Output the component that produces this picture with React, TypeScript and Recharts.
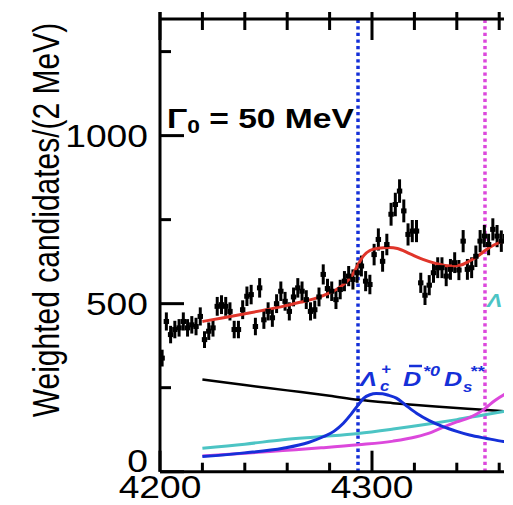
import React from "react";
import { ComposedChart, XAxis, YAxis, Scatter, Line, ErrorBar, ReferenceLine } from "recharts";

// 2 MeV bins, first bin centre at 4201 MeV
const massStart = 4201;
const binWidth = 2;

const counts = [
  338, 447, 408, 423, 428, 447, 428, 437, 432, 462,
  393, 418, 428, 492, 497, 492, 477, 423, 423, 482,
  522, 527, 432, 547, 452, 477, 458, 500, 537, 507,
  477, 520, 547, 537, 512, 477, 482, 520, 587, 545,
  537, 512, 542, 567, 582, 572, 592, 612, 567, 557,
  646, 691, 626, 676, 766, 795, 835, 776, 706, 716,
  716, 562, 525, 555, 592, 607, 607, 582, 602, 622,
  600, 686, 602, 607, 641, 686, 701, 676, 721, 701,
  686, 700, 690,
];

const errors = [
  25, 27, 26, 26, 26, 27, 26, 26, 26, 27,
  25, 26, 26, 28, 28, 28, 27, 26, 26, 28,
  29, 29, 26, 29, 27, 27, 27, 28, 29, 28,
  27, 28, 29, 29, 28, 27, 27, 28, 30, 29,
  29, 28, 29, 30, 30, 30, 30, 31, 30, 29,
  32, 33, 31, 32, 34, 35, 35, 34, 33, 33,
  33, 30, 29, 30, 30, 31, 31, 30, 31, 31,
  30, 33, 31, 31, 32, 33, 33, 32, 33, 33,
  32, 33, 33,
];

// fit components, [mass, weighted candidates]
const totalFit = [
  [4220, 447], [4230, 458], [4242, 472], [4250, 482], [4258, 492], [4266, 504],
  [4274, 517], [4280, 532], [4284, 545], [4288, 565], [4291, 588], [4293.5, 617],
  [4296, 642], [4299, 658], [4303, 665], [4308, 667], [4312, 664], [4318, 648],
  [4324, 632], [4330, 620], [4337, 612], [4342, 615], [4346, 627], [4350, 642],
  [4354, 661], [4358, 676], [4362, 686], [4366, 692],
];

const nonResonant = [
  [4220, 274], [4240, 258], [4260, 242], [4280, 226], [4293.5, 214],
  [4310, 204], [4330, 194], [4352.5, 184], [4366, 178],
];

const cyanComponent = [
  [4220, 70], [4240, 82], [4258, 95], [4275, 104], [4293.5, 114], [4310, 127],
  [4329, 144], [4340, 155], [4352.5, 169], [4362, 179], [4366, 183],
];

const magentaComponent = [
  [4220, 47], [4240, 55], [4258, 63], [4276, 71], [4293.5, 80], [4310, 91],
  [4321, 104], [4328, 117], [4333.5, 132], [4340, 148], [4346, 161], [4350, 174],
  [4352.5, 184], [4355, 197], [4358, 212], [4362, 228], [4366, 240],
];

const blueComponent = [
  [4220, 45], [4240, 56], [4258, 70], [4270, 87], [4277, 104], [4282, 120],
  [4286.5, 144], [4290, 170], [4293.5, 199], [4296, 218], [4299, 229], [4302, 233],
  [4305, 232], [4308, 227], [4311.5, 219], [4315.5, 200], [4321, 174], [4327, 152],
  [4333.5, 134], [4340, 120], [4346, 109], [4354, 99], [4362, 90], [4366, 87],
];

// thresholds drawn as dotted lines
const thresholdBlue = 4293.4;
const thresholdMagenta = 4353.3;

const xMin = 4200;
const xMax = 4380;
const yMax = 1347;
const xTicks = [4200, 4220, 4240, 4260, 4280, 4300, 4320, 4340, 4360];
const xLabels = [4200, 4300];
const yTicks = [0, 250, 500, 750, 1000, 1250];
const yLabels = [0, 500, 1000];

const points = counts.map((y, i) => ({ x: massStart + binWidth * i, y, err: errors[i] }));
const rows = (arr: number[][]) => arr.map(([x, v]) => ({ x, v }));

const FONT = "'Liberation Sans', Arial, Helvetica, sans-serif";
const BLUE = "#1530d8";
const MAGENTA = "#dc48dc";
const CYAN = "#4cc4c4";
const RED = "#e0352a";

const CHART_W = 560;
const CHART_H = 505;
const MARGIN = { top: 19, right: 18.4, bottom: 32.3, left: 159 };
const PLOT_LEFT = MARGIN.left + 1;
const PLOT_RIGHT = CHART_W - MARGIN.right;
const toPx = (m: number) => PLOT_LEFT + ((m - xMin) / (xMax - xMin)) * (PLOT_RIGHT - PLOT_LEFT);

function BottomTick({ x, y, payload }: any) {
  const major = xLabels.includes(payload.value);
  return (
    <g>
      <line x1={x} x2={x} y1={y} y2={y - (major ? 21 : 9)} stroke="#000" strokeWidth={3} />
      {major && (
        <text transform={`translate(${x},${y + 26}) scale(1.2,1)`} textAnchor="middle" fontSize={31} fontFamily={FONT}>
          {payload.value}
        </text>
      )}
    </g>
  );
}

function LeftTick({ x, y, payload }: any) {
  const major = yLabels.includes(payload.value);
  return (
    <g>
      <line x1={x} x2={x + (major ? 24 : 11)} y1={y} y2={y} stroke="#000" strokeWidth={3} />
      {major && (
        <text
          transform={`translate(${x - 12},${y + (payload.value === 0 ? 0 : 11)}) scale(1.2,1)`}
          textAnchor="end"
          fontSize={31}
          fontFamily={FONT}
        >
          {payload.value}
        </text>
      )}
    </g>
  );
}

// upper frame with ticks crossing it
function TopFrame() {
  const top = MARGIN.top;
  return (
    <g fill="#000">
      <rect x={PLOT_LEFT} y={top - 1.5} width={PLOT_RIGHT - PLOT_LEFT} height={3} />
      <rect x={PLOT_LEFT - 1.5} y={top - 7} width={3} height={7} />
      {xTicks.map((t) => (
        <rect key={t} x={toPx(t) - 1.5} y={top - 7} width={3} height={7 + (xLabels.includes(t) ? 21 : 11)} />
      ))}
    </g>
  );
}

function Marker(props: any) {
  const { cx, cy } = props;
  return <rect x={cx - 2.7} y={cy - 2.5} width={5.4} height={5} fill="#000" />;
}

function T({ x, y, size, children, ...rest }: any) {
  return (
    <text transform={`translate(${x},${y}) scale(1.2,1)`} fontSize={size} fontFamily={FONT} {...rest}>
      {children}
    </text>
  );
}

export default function App() {
  const axisLine = { stroke: "#000", strokeWidth: 3 };
  return (
    <div style={{ position: "absolute", left: 0, top: 0, width: 504, height: 505, overflow: "hidden", background: "#fff" }}>
      <ComposedChart width={CHART_W} height={CHART_H} margin={MARGIN}>
        <XAxis
          dataKey="x"
          type="number"
          domain={[xMin, xMax]}
          allowDataOverflow
          ticks={xTicks}
          interval={0}
          height={1}
          tickSize={0}
          tickMargin={0}
          tickLine={false}
          axisLine={axisLine}
          tick={BottomTick}
        />
        <YAxis
          type="number"
          domain={[0, yMax]}
          allowDataOverflow
          ticks={yTicks}
          interval={0}
          width={1}
          tickSize={0}
          tickMargin={0}
          tickLine={false}
          axisLine={axisLine}
          tick={LeftTick}
        />
        <ReferenceLine x={thresholdBlue} stroke={BLUE} strokeWidth={3.5} strokeDasharray="3.3 3.3" />
        <ReferenceLine x={thresholdMagenta} stroke={MAGENTA} strokeWidth={3.5} strokeDasharray="3.3 3.3" />
        <Line data={rows(nonResonant)} dataKey="v" type="monotone" stroke="#000" strokeWidth={2.5} dot={false} isAnimationActive={false} />
        <Line data={rows(cyanComponent)} dataKey="v" type="monotone" stroke={CYAN} strokeWidth={3} dot={false} isAnimationActive={false} />
        <Line data={rows(magentaComponent)} dataKey="v" type="monotone" stroke={MAGENTA} strokeWidth={3} dot={false} isAnimationActive={false} />
        <Line data={rows(blueComponent)} dataKey="v" type="monotone" stroke={BLUE} strokeWidth={3} dot={false} isAnimationActive={false} />
        <Scatter data={points} dataKey="y" shape={Marker} isAnimationActive={false}>
          <ErrorBar dataKey="err" direction="y" width={0} stroke="#000" strokeWidth={3} />
        </Scatter>
        <Line data={rows(totalFit)} dataKey="v" type="monotone" stroke={RED} strokeWidth={3} dot={false} isAnimationActive={false} />
      </ComposedChart>
      <svg width={504} height={505} style={{ position: "absolute", left: 0, top: 0, pointerEvents: "none" }}>
        <TopFrame />
        <text transform="translate(59,220) scale(1.2,1) rotate(-90)" textAnchor="middle" fontSize={30} fontFamily={FONT}>
          Weighted candidates/(2 MeV)
        </text>
        <T x={167} y={128} size={28} fontWeight="bold">
          Γ<tspan fontSize={19} dy={5}>0</tspan>
          <tspan dy={-5}> = 50 MeV</tspan>
        </T>
        <g fill={BLUE} fontWeight="bold" fontStyle="italic">
          <T x={360} y={386} size={21}>Λ</T>
          <T x={380} y={391} size={14}>c</T>
          <T x={381} y={374} size={14}>+</T>
          <T x={403} y={386} size={21}>D</T>
          <line x1={409} x2={422} y1={366} y2={366} stroke={BLUE} strokeWidth={2.5} />
          <T x={423} y={376} size={15}>*0</T>
          <T x={444} y={386} size={21}>D</T>
          <T x={463} y={392} size={14}>s</T>
          <T x={470} y={376} size={15}>**</T>
        </g>
        <T x={487} y={307} size={19} fill={CYAN} fontWeight="bold" fontStyle="italic">Λ</T>
      </svg>
    </div>
  );
}
